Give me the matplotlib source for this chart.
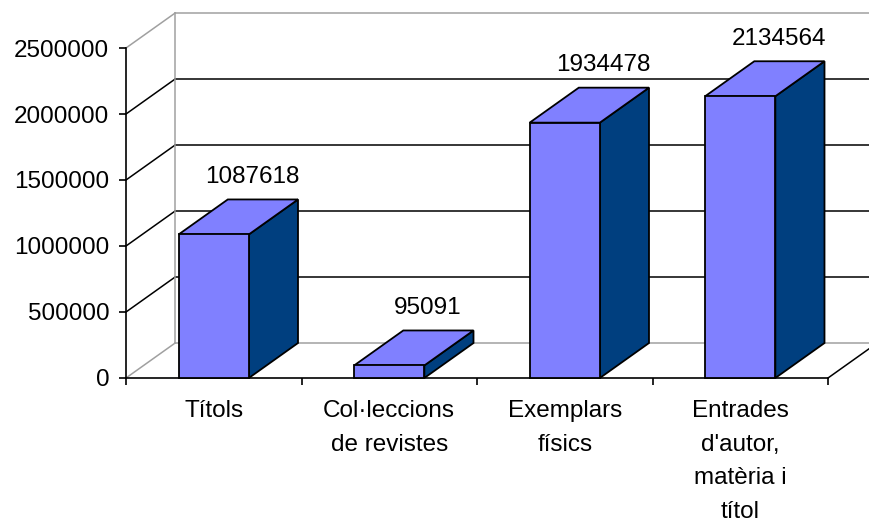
import matplotlib
matplotlib.use("Agg")
import matplotlib.pyplot as plt
from matplotlib.patches import Polygon

plt.rcParams['font.family'] = ['Liberation Sans', 'DejaVu Sans']

categories = ["Títols", "Col·leccions\nde revistes", "Exemplars\nfísics",
              "Entrades\nd'autor,\nmatèria i\ntítol"]
values = [1087618, 95091, 1934478, 2134564]
yticks = [0, 500000, 1000000, 1500000, 2000000, 2500000]

# fake 3d depth (data units) and bar width
DX = 0.28
DY = 265000
W = 0.40
FRONT = '#8080FF'
SIDE = '#003F7F'
GRAY = '#A0A0A0'
FS = 17.5

fig = plt.figure(figsize=(8.69, 5.25), dpi=100)
ax = fig.add_axes([126/869, 1 - 378/525, (828-126)/869, 330/525])
ax.set_xlim(0, 4)
ax.set_ylim(0, 2500000)

# walls / gridlines
for v in yticks:
    c = GRAY if v in (0, 2500000) else 'black'
    ax.plot([0, DX], [v, v + DY], color=c, lw=1.1, clip_on=False, zorder=1)
    ax.plot([DX, 4 + DX + 0.2], [v + DY, v + DY], color=c, lw=1.1,
            clip_on=False, zorder=1)
ax.plot([DX, DX], [DY, 2500000 + DY], color=GRAY, lw=1.1, clip_on=False, zorder=1)
ax.plot([4, 4 + DX], [0, DY], color='black', lw=1.1, clip_on=False, zorder=1)

# bars
for i, v in enumerate(values):
    x0 = i + 0.5 - W/2
    x1 = i + 0.5 + W/2
    front = [(x0, 0), (x1, 0), (x1, v), (x0, v)]
    top = [(x0, v), (x1, v), (x1 + DX, v + DY), (x0 + DX, v + DY)]
    side = [(x1, 0), (x1 + DX, DY), (x1 + DX, v + DY), (x1, v)]
    for pts, col in ((side, SIDE), (top, FRONT), (front, FRONT)):
        ax.add_patch(Polygon(pts, closed=True, facecolor=col, edgecolor='black',
                             lw=1.3, zorder=3, clip_on=False, joinstyle='miter'))
    ax.text(i + 0.5 + 0.22, v + DY + 170000, str(v), ha='center', va='center',
            fontsize=FS, zorder=4, clip_on=False)

for s in ('top', 'right'):
    ax.spines[s].set_visible(False)
for s in ('left', 'bottom'):
    ax.spines[s].set_linewidth(1.2)
    ax.spines[s].set_zorder(2)
ax.patch.set_visible(False)

ax.set_yticks(yticks)
ax.set_yticklabels([str(t) for t in yticks])
ax.tick_params(axis='y', length=5, width=1.2, pad=7, labelsize=FS)

ax.set_xticks([0, 1, 2, 3, 4])
ax.set_xticklabels([])
ax.tick_params(axis='x', which='major', length=5, width=1.2, direction='out')
ax.set_xticks([0.5, 1.5, 2.5, 3.5], minor=True)
ax.set_xticklabels(categories, minor=True)
ax.tick_params(axis='x', which='minor', length=0, pad=16, labelsize=FS)
for t in ax.get_xticklabels(minor=True):
    t.set_linespacing(1.68)

fig.savefig("out.png", dpi=100)
